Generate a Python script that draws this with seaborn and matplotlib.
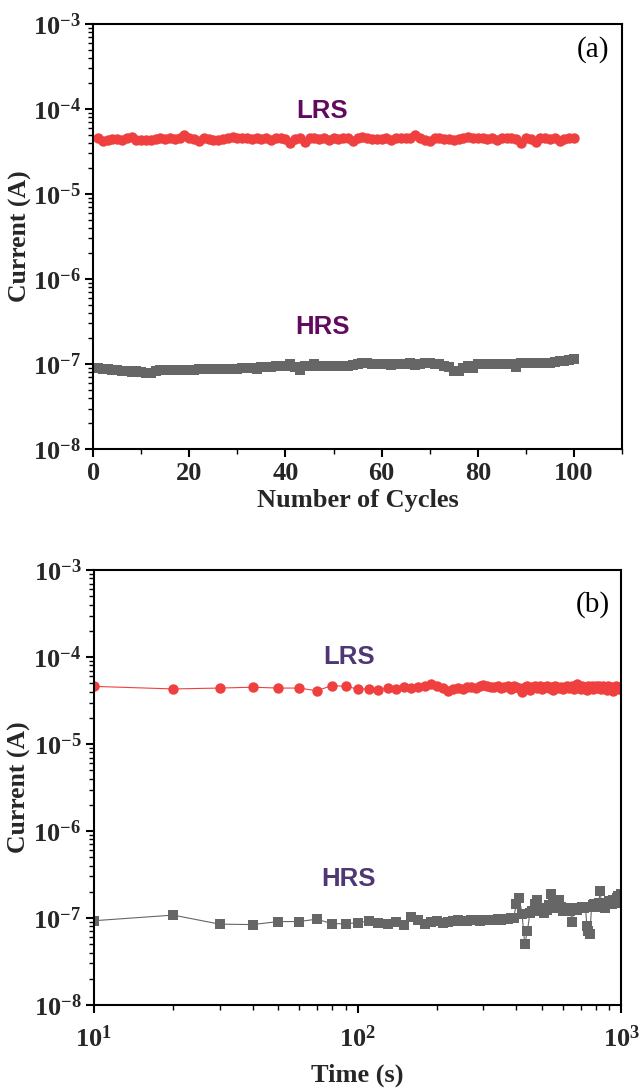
import matplotlib.pyplot as plt
import matplotlib.ticker as mticker
import numpy as np
import pandas as pd
import seaborn as sns

# (a) endurance: current vs cycle number
cycles = np.arange(1, 101)
lrs_cycle = np.array([
    4.6, 4.2, 4.3, 4.4, 4.4, 4.3, 4.5, 4.7, 4.3, 4.3,
    4.3, 4.3, 4.4, 4.6, 4.4, 4.5, 4.4, 4.5, 5.0, 4.6,
    4.4, 4.2, 4.5, 4.4, 4.3, 4.3, 4.4, 4.5, 4.7, 4.6,
    4.5, 4.5, 4.4, 4.6, 4.4, 4.5, 4.3, 4.5, 4.6, 4.4,
    4.0, 4.4, 4.6, 4.1, 4.5, 4.6, 4.4, 4.6, 4.3, 4.5,
    4.4, 4.5, 4.5, 4.2, 4.5, 4.7, 4.5, 4.4, 4.4, 4.4,
    4.5, 4.3, 4.5, 4.6, 4.5, 4.6, 4.9, 4.6, 4.3, 4.2,
    4.5, 4.5, 4.4, 4.4, 4.3, 4.4, 4.5, 4.7, 4.6, 4.5,
    4.5, 4.4, 4.5, 4.3, 4.5, 4.5, 4.6, 4.4, 4.0, 4.5,
    4.4, 4.1, 4.5, 4.6, 4.4, 4.6, 4.2, 4.4, 4.5, 4.5,
]) * 1e-5
hrs_cycle = np.array([
    8.9, 8.8, 8.7, 8.5, 8.4, 8.3, 8.2, 8.1, 8.2, 8.1,
    7.9, 7.9, 8.3, 8.4, 8.4, 8.5, 8.5, 8.5, 8.6, 8.6,
    8.6, 8.7, 8.7, 8.7, 8.7, 8.8, 8.8, 8.8, 8.8, 8.8,
    8.9, 8.9, 8.9, 8.8, 9.3, 9.3, 9.3, 9.4, 9.4, 9.4,
    9.9, 9.3, 8.5, 9.6, 9.5, 9.9, 9.4, 9.4, 9.4, 9.4,
    9.4, 9.4, 9.5, 9.7, 10.1, 10.3, 10.2, 10.1, 10.1, 10.0,
    10.1, 9.8, 10.0, 10.0, 10.1, 10.2, 9.8, 10.0, 10.3, 10.4,
    10.1, 9.9, 9.4, 9.2, 8.2, 8.3, 9.0, 9.4, 9.0, 9.9,
    10.0, 10.1, 10.0, 10.0, 10.0, 10.0, 9.9, 9.3, 10.2, 10.3,
    10.3, 10.4, 10.4, 10.4, 10.4, 10.6, 10.8, 10.9, 11.2, 11.4,
]) * 1e-8

# (b) retention: current vs time
times = np.arange(10, 1001, 10)
lrs_time = np.array([
    4.6, 4.3, 4.4, 4.5, 4.4, 4.4, 4.1, 4.7, 4.6, 4.3,
    4.3, 4.2, 4.4, 4.3, 4.5, 4.4, 4.5, 4.6, 4.9, 4.6,
    4.4, 4.1, 4.3, 4.4, 4.3, 4.5, 4.5, 4.4, 4.6, 4.8,
    4.6, 4.5, 4.5, 4.6, 4.4, 4.5, 4.6, 4.3, 4.6, 4.5,
    4.4, 4.0, 4.5, 4.6, 4.2, 4.5, 4.6, 4.4, 4.6, 4.3,
    4.5, 4.6, 4.4, 4.5, 4.2, 4.6, 4.5, 4.4, 4.5, 4.3,
    4.5, 4.7, 4.4, 4.5, 4.6, 4.3, 4.6, 4.9, 4.5, 4.3,
    4.6, 4.4, 4.5, 4.2, 4.7, 4.5, 4.6, 4.3, 4.5, 4.7,
    4.4, 4.6, 4.5, 4.3, 4.6, 4.4, 4.5, 4.2, 4.6, 4.5,
    4.3, 4.5, 4.1, 4.4, 4.6, 4.4, 4.5, 4.3, 4.5, 4.5,
]) * 1e-5
hrs_time = np.array([
    9.3, 10.8, 8.5, 8.4, 9.1, 9.1, 9.7, 8.6, 8.6, 8.8,
    9.2, 8.7, 8.5, 9.1, 8.2, 10.4, 9.5, 8.5, 9.0, 9.2,
    8.8, 9.0, 9.3, 9.4, 9.3, 9.2, 9.4, 9.5, 9.3, 9.5,
    9.6, 9.4, 9.6, 9.7, 9.6, 9.8, 9.8, 9.9, 10.0, 14.5,
    17.0, 11.0, 5.0, 7.0, 11.5, 12.0, 14.5, 16.0, 12.0, 13.0,
    11.5, 12.5, 14.0, 19.0, 15.5, 13.0, 14.5, 16.0, 13.5, 12.0,
    13.0, 12.5, 13.0, 12.0, 9.0, 12.5, 13.0, 12.5, 13.0, 13.0,
    13.5, 13.0, 13.5, 8.0, 7.0, 6.5, 13.5, 14.0, 14.5, 13.5,
    14.0, 15.0, 20.5, 15.0, 14.5, 14.0, 13.0, 15.0, 14.5, 15.5,
    15.0, 14.5, 16.0, 15.5, 15.0, 17.0, 18.0, 16.0, 15.5, 19.0,
]) * 1e-8

RED = "#f03f3f"
GRAY = "#666666"

sns.set_style("ticks")
plt.rcParams["font.family"] = ["Liberation Serif", "DejaVu Serif"]
plt.rcParams["font.weight"] = "bold"
plt.rcParams["mathtext.fontset"] = "custom"
plt.rcParams["mathtext.rm"] = "Liberation Serif:bold"
plt.rcParams["mathtext.it"] = "Liberation Serif:bold:italic"
plt.rcParams["mathtext.bf"] = "Liberation Serif:bold"


def decade_label(v, pos):
    return r"$10^{%d}$" % int(round(np.log10(v)))


def style_axis(ax, label_x):
    for sp in ax.spines.values():
        sp.set_linewidth(1.5)
        sp.set_color("black")
    ax.tick_params(which="major", direction="out", length=6, width=1.5,
                   labelsize=19, top=False, right=False, color="black", pad=3)
    ax.tick_params(which="minor", direction="out", length=3.5, width=1.0,
                   top=False, right=False, color="black")
    ax.set_yscale("log")
    ax.set_ylim(1e-8, 1e-3)
    ax.yaxis.set_major_locator(mticker.LogLocator(base=10, numticks=20))
    ax.yaxis.set_minor_locator(mticker.LogLocator(base=10, subs=np.arange(2, 10), numticks=100))
    ax.yaxis.set_major_formatter(mticker.FuncFormatter(decade_label))
    ax.yaxis.set_minor_formatter(mticker.NullFormatter())
    ax.set_ylabel("Current (A)", fontsize=18.5, fontweight="bold")
    ax.yaxis.set_label_coords(label_x, 0.5)


fig = plt.figure(figsize=(6.42, 10.9), dpi=100)
ax1 = fig.add_axes([0.145, 0.588, 0.824, 0.390])
ax2 = fig.add_axes([0.146, 0.078, 0.822, 0.399])

# panel (a)
df_a = pd.DataFrame({"cycle": cycles, "LRS": lrs_cycle, "HRS": hrs_cycle})
style_axis(ax1, -0.116)
sns.lineplot(data=df_a, x="cycle", y="LRS", ax=ax1, color=RED, linewidth=1.0,
             marker="o", markersize=7.5, markeredgewidth=0, markerfacecolor=RED,
             errorbar=None)
sns.lineplot(data=df_a, x="cycle", y="HRS", ax=ax1, color=GRAY, linewidth=1.0,
             marker="s", markersize=6.5, markeredgewidth=0, markerfacecolor=GRAY,
             errorbar=None)
ax1.set_xlim(0, 110)
ax1.xaxis.set_major_locator(mticker.MultipleLocator(20))
ax1.xaxis.set_minor_locator(mticker.MultipleLocator(10))
ax1.xaxis.set_major_formatter(mticker.FuncFormatter(
    lambda v, p: "" if v > 100 else "%d" % v))
ax1.set_xlabel("Number of Cycles", fontsize=19, fontweight="bold", labelpad=3)
ax1.text(0.433, 0.795, "LRS", transform=ax1.transAxes, ha="center", va="center",
         fontsize=18.5, fontweight="bold", family=["Liberation Sans"], color="#620a5e")
ax1.text(0.433, 0.287, "HRS", transform=ax1.transAxes, ha="center", va="center",
         fontsize=18.5, fontweight="bold", family=["Liberation Sans"], color="#620a5e")
ax1.text(0.945, 0.94, "(a)", transform=ax1.transAxes, ha="center", va="center",
         fontsize=21, fontweight="normal", color="black")

# panel (b)
df_b = pd.DataFrame({"time": times, "LRS": lrs_time, "HRS": hrs_time})
style_axis(ax2, -0.118)
ax2.set_xscale("log")
sns.lineplot(data=df_b, x="time", y="LRS", ax=ax2, color=RED, linewidth=0.8,
             marker="o", markersize=7.5, markeredgewidth=0, markerfacecolor=RED,
             errorbar=None)
sns.lineplot(data=df_b, x="time", y="HRS", ax=ax2, color=GRAY, linewidth=0.8,
             marker="s", markersize=6.5, markeredgewidth=0, markerfacecolor=GRAY,
             errorbar=None)
ax2.set_xlim(10, 1000)
ax2.xaxis.set_major_locator(mticker.LogLocator(base=10, numticks=20))
ax2.xaxis.set_minor_locator(mticker.LogLocator(base=10, subs=np.arange(2, 10), numticks=100))
ax2.xaxis.set_major_formatter(mticker.FuncFormatter(decade_label))
ax2.xaxis.set_minor_formatter(mticker.NullFormatter())
ax2.tick_params(axis="x", which="major", pad=9)
ax2.set_xlabel("Time (s)", fontsize=19, fontweight="bold", labelpad=8)
ax2.text(0.483, 0.80, "LRS", transform=ax2.transAxes, ha="center", va="center",
         fontsize=18.5, fontweight="bold", family=["Liberation Sans"], color="#4e3774")
ax2.text(0.483, 0.29, "HRS", transform=ax2.transAxes, ha="center", va="center",
         fontsize=18.5, fontweight="bold", family=["Liberation Sans"], color="#4e3774")
ax2.text(0.945, 0.92, "(b)", transform=ax2.transAxes, ha="center", va="center",
         fontsize=21, fontweight="normal", color="black")

fig.savefig("out.png", dpi=100)
